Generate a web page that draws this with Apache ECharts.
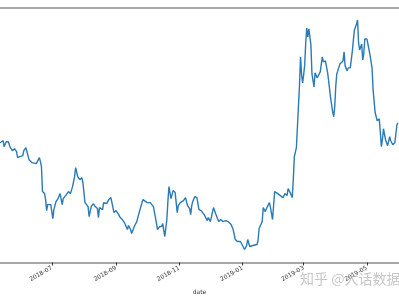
<!DOCTYPE html>
<html>
<head>
<meta charset="utf-8">
<script src="https://cdn.jsdelivr.net/npm/echarts@6/dist/echarts.min.js"></script>
<style>
html,body{margin:0;padding:0;background:#fff;}
#chart{width:399px;height:300px;}
</style>
</head>
<body>
<div id="chart"></div>
<script>
const dates = [
'2018-05-12','2018-05-15','2018-05-16','2018-05-18','2018-05-20','2018-05-22','2018-05-24','2018-05-26','2018-05-28','2018-05-29',
'2018-05-31','2018-06-03','2018-06-04','2018-06-06','2018-06-07','2018-06-09','2018-06-12','2018-06-13','2018-06-16','2018-06-17',
'2018-06-19','2018-06-20','2018-06-21','2018-06-22','2018-06-24','2018-06-25','2018-06-26','2018-06-27','2018-06-28','2018-06-30',
'2018-07-02','2018-07-03','2018-07-05','2018-07-07','2018-07-09','2018-07-11','2018-07-12','2018-07-15','2018-07-17','2018-07-19',
'2018-07-21','2018-07-23','2018-07-24','2018-07-26','2018-07-28','2018-07-30','2018-07-31','2018-08-02','2018-08-05','2018-08-06',
'2018-08-08','2018-08-10','2018-08-12','2018-08-14','2018-08-15','2018-08-16','2018-08-19','2018-08-20','2018-08-23','2018-08-25',
'2018-08-27','2018-08-28','2018-08-30','2018-09-01','2018-09-03','2018-09-05','2018-09-07','2018-09-09','2018-09-12','2018-09-13',
'2018-09-15','2018-09-16','2018-09-17','2018-09-19','2018-09-21','2018-09-23','2018-09-26','2018-09-27','2018-10-01','2018-10-04',
'2018-10-07','2018-10-09','2018-10-11','2018-10-13','2018-10-15','2018-10-16','2018-10-18','2018-10-20','2018-10-21','2018-10-22',
'2018-10-24','2018-10-26','2018-10-28','2018-10-30','2018-10-31','2018-11-02','2018-11-05','2018-11-07','2018-11-09','2018-11-11',
'2018-11-12','2018-11-13','2018-11-14','2018-11-16','2018-11-18','2018-11-20','2018-11-22','2018-11-25','2018-11-28','2018-11-29',
'2018-12-01','2018-12-04','2018-12-06','2018-12-09','2018-12-11','2018-12-13','2018-12-16','2018-12-18','2018-12-21','2018-12-23',
'2018-12-25','2018-12-27','2018-12-30','2019-01-01','2019-01-03','2019-01-05','2019-01-06','2019-01-08','2019-01-11','2019-01-15',
'2019-01-16','2019-01-17','2019-01-20','2019-01-21','2019-01-23','2019-01-25','2019-01-27','2019-01-28','2019-01-30','2019-02-01',
'2019-02-04','2019-02-09','2019-02-11','2019-02-13','2019-02-14','2019-02-16','2019-02-18','2019-02-19','2019-02-20','2019-02-22',
'2019-02-23','2019-02-25','2019-02-26','2019-02-27','2019-02-28','2019-03-01','2019-03-02','2019-03-03','2019-03-04','2019-03-05',
'2019-03-06','2019-03-08','2019-03-09','2019-03-11','2019-03-12','2019-03-14','2019-03-15','2019-03-17','2019-03-19','2019-03-20',
'2019-03-22','2019-03-24','2019-03-25','2019-03-27','2019-03-29','2019-03-30','2019-03-31','2019-04-01','2019-04-02','2019-04-03',
'2019-04-05','2019-04-08','2019-04-09','2019-04-10','2019-04-12','2019-04-13','2019-04-15','2019-04-17','2019-04-18','2019-04-19',
'2019-04-21','2019-04-22','2019-04-23','2019-04-24','2019-04-26','2019-04-27','2019-04-28','2019-04-29','2019-05-01','2019-05-02',
'2019-05-04','2019-05-06','2019-05-07','2019-05-09','2019-05-11','2019-05-13','2019-05-15','2019-05-16','2019-05-17','2019-05-18',
'2019-05-19','2019-05-21','2019-05-23','2019-05-24','2019-05-26','2019-05-28','2019-05-30','2019-05-31'
];
const values = [
4.07,4.09,4.03,4.08,4.08,4.02,3.99,4.01,3.98,3.92,
3.93,3.94,3.99,4.02,4.00,3.90,3.87,3.88,3.86,3.87,
3.92,3.88,3.83,3.58,3.56,3.50,3.39,3.45,3.47,3.45,
3.31,3.40,3.48,3.51,3.56,3.45,3.51,3.55,3.58,3.56,
3.63,3.73,3.82,3.73,3.70,3.72,3.67,3.47,3.43,3.33,
3.43,3.46,3.43,3.41,3.32,3.42,3.40,3.47,3.46,3.50,
3.52,3.47,3.37,3.39,3.36,3.32,3.30,3.27,3.20,3.24,
3.20,3.16,3.14,3.24,3.28,3.36,3.47,3.50,3.47,3.47,
3.43,3.32,3.20,3.23,3.23,3.26,3.13,3.30,3.48,3.63,
3.51,3.59,3.57,3.37,3.44,3.47,3.49,3.52,3.44,3.41,
3.35,3.44,3.48,3.53,3.52,3.40,3.39,3.35,3.29,3.32,
3.28,3.42,3.36,3.28,3.30,3.28,3.29,3.28,3.25,3.20,
3.10,3.08,3.08,3.04,3.00,3.04,3.10,3.03,3.04,3.05,
3.09,3.21,3.28,3.42,3.38,3.43,3.47,3.42,3.30,3.58,
3.56,3.52,3.56,3.54,3.61,3.57,3.52,3.70,3.93,4.02,
4.23,4.65,4.93,4.75,4.67,4.75,4.85,5.07,5.22,5.13,
5.21,5.05,4.76,4.63,4.77,4.72,4.73,4.78,4.93,4.88,
4.89,4.78,4.70,4.52,4.38,4.33,4.43,4.64,4.76,4.78,
4.86,4.89,4.98,4.84,4.79,4.82,4.82,4.99,5.10,5.20,
5.26,5.30,5.07,5.00,5.06,4.90,4.96,5.11,5.11,5.06,
4.95,4.82,4.60,4.37,4.29,4.31,4.03,4.10,4.21,4.20,
4.10,4.04,4.13,4.09,4.05,4.07,4.25,4.27
];
const tickLabels = ['2018-07','2018-09','2018-11','2019-01','2019-03','2019-05'];
const axisStart = '2018-05-12';
const axisEnd = '2019-06-01';
const yMin = 2.87, yMax = 5.42;

function parse(s) {
  const p = s.split('-').map(Number);
  return Date.UTC(p[0], p[1] - 1, p[2] || 1);
}
const tickValues = tickLabels.map(t => parse(t + '-01'));
const seriesData = dates.map((d, i) => [parse(d), values[i]]);
const pad = n => (n < 10 ? '0' : '') + n;
function fmt(v) {
  const d = new Date(v);
  return d.getUTCFullYear() + '-' + pad(d.getUTCMonth() + 1);
}

const chart = echarts.init(document.getElementById('chart'), null, {renderer: 'canvas'});
chart.setOption({
  animation: false,
  backgroundColor: '#ffffff',
  grid: {left: 0, right: 0, top: 8, bottom: 36, containLabel: false},
  xAxis: [{
    type: 'value',
    min: parse(axisStart),
    max: parse(axisEnd),
    name: 'date',
    nameLocation: 'middle',
    nameGap: 26,
    nameTextStyle: {fontSize: 6, color: '#333', fontFamily: 'DejaVu Sans'},
    axisLine: {show: true, lineStyle: {color: '#8a8a8a', width: 1.5}},
    axisTick: {show: true, customValues: tickValues, length: 3, lineStyle: {color: '#333', width: 1}},
    axisLabel: {
      show: true,
      customValues: tickValues,
      rotate: 30,
      margin: 5,
      fontSize: 6,
      color: '#333',
      fontFamily: 'DejaVu Sans',
      formatter: fmt
    },
    splitLine: {show: false}
  }, {
    type: 'value',
    position: 'top',
    min: parse(axisStart),
    max: parse(axisEnd),
    axisLine: {show: true, lineStyle: {color: '#8a8a8a', width: 1.5}},
    axisTick: {show: false},
    axisLabel: {show: false},
    splitLine: {show: false}
  }],
  yAxis: {
    type: 'value',
    min: yMin,
    max: yMax,
    show: false,
    splitLine: {show: false}
  },
  series: [{
    type: 'line',
    data: seriesData,
    xAxisIndex: 0,
    showSymbol: false,
    symbol: 'none',
    lineStyle: {color: '#2a7ab5', width: 1.4},
    clip: true
  }],
  graphic: [{
    type: 'text',
    left: 300,
    top: 272,
    style: {
      text: '知乎 @大话数据分析',
      font: '14px "Noto Sans CJK SC"',
      fill: 'rgba(175,175,175,0.7)'
    },
    z: 100
  }]
});
</script>
</body>
</html>
